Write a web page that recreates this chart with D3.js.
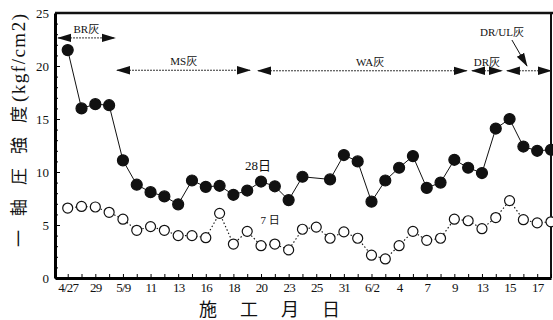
<!DOCTYPE html>
<html>
<head>
<meta charset="utf-8">
<script src="https://cdn.jsdelivr.net/npm/d3@7"></script>
<style>
    body { margin: 0; background: #fff; }
    svg { display: block; }
    text { font-family: "Liberation Serif", "Noto Sans CJK JP", serif; fill: #111; }
</style>
</head>
<body>
<svg width="553" height="320"></svg>
<script>
// sampling days, labels only under every second sample
const xLabels = ["4/27", "29", "5/9", "11", "13", "16", "18", "20", "23",
                 "25", "31", "6/2", "4", "7", "9", "13", "15", "17"];

// unconfined compressive strength (kgf/cm2), one value per sample
const strength28 = [21.5, 16.0, 16.4, 16.3, 11.1, 8.8, 8.1, 7.7, 6.95, 9.2,
                    8.6, 8.7, 7.85, 8.25, 9.1, 8.65, 7.35, 9.55, null, 9.3,
                    11.6, 11.0, 7.2, 9.2, 10.4, 11.5, 8.5, 9.0, 11.15, 10.4,
                    9.9, 14.1, 15.0, 12.4, 12.0, 12.1];
const strength7 = [6.6, 6.75, 6.7, 6.2, 5.55, 4.5, 4.85, 4.5, 4.0, 4.0,
                   3.8, 6.1, 3.2, 4.4, 3.05, 3.2, 2.65, 4.6, 4.8, 3.75,
                   4.35, 3.75, 2.15, 1.8, 3.05, 4.4, 3.55, 3.75, 5.55, 5.4,
                   4.65, 5.7, 7.3, 5.5, 5.2, 5.3];

const yTicks = [0, 5, 10, 15, 20, 25];

// lime type periods: start / end in sample index, level in kgf/cm2
const periods = [
    {name: "BR灰",    start: -0.7,  end: 3.42,  level: 22.65, labelAt: 1.35,  labelLevel: 23.1},
    {name: "MS灰",    start: 3.57,  end: 13.2,  level: 19.6,  labelAt: 8.4,   labelLevel: 20.1},
    {name: "WA灰",    start: 13.78, end: 28.9,  level: 19.55, labelAt: 21.9,  labelLevel: 20.0},
    {name: "DR灰",    start: 29.28, end: 31.45, level: 19.55, labelAt: 30.36, labelLevel: 20.0},
    {name: "DR/UL灰", start: 31.81, end: 35.0,  level: 19.55, labelAt: 31.45, labelLevel: 22.8}
];

const svg = d3.select("svg");

const x = d3.scaleLinear().domain([-0.92, 35]).range([55, 551]);
const y = d3.scaleLinear().domain([0, 25]).range([278, 13]);

/**
 * Draw the axes, frame and axis titles
 * @param {selection} g - group to draw in
 */
function drawAxes(g){
    // frame on top and right
    g.append("line").attr("x1", 55).attr("x2", 553).attr("y1", y(25)).attr("y2", y(25))
        .attr("stroke", "#111").attr("stroke-width", 2.5);
    g.append("line").attr("x1", x(35)).attr("x2", x(35)).attr("y1", y(25)).attr("y2", y(0))
        .attr("stroke", "#111").attr("stroke-width", 2);

    // minor ticks every unit
    g.append("g")
        .attr("transform", `translate(${x(-0.92)},0)`)
        .call(d3.axisLeft(y).tickValues(d3.range(0, 26)).tickSizeInner(-3).tickSizeOuter(0).tickFormat(""))
        .call(s => s.select(".domain").remove());

    let yAxis = g.append("g")
        .attr("transform", `translate(${x(-0.92)},0)`)
        .call(d3.axisLeft(y).tickValues(yTicks).tickSizeInner(-5).tickSizeOuter(0).tickPadding(6));
    yAxis.select(".domain").attr("stroke-width", 3);
    yAxis.selectAll("text").style("font-size", "13px").style("font-family", "Liberation Serif");

    let xAxis = g.append("g")
        .attr("transform", `translate(0,${y(0)})`)
        .call(d3.axisBottom(x)
            .tickValues(d3.range(0, 36))
            .tickSizeInner(-4).tickSizeOuter(0).tickPadding(5)
            .tickFormat(i => i % 2 === 0 ? xLabels[i / 2] : ""));
    xAxis.select(".domain").attr("stroke-width", 3);
    xAxis.selectAll("text").style("font-size", "13px").style("letter-spacing", "-0.8px")
        .style("font-family", "Liberation Serif");

    // y title, rotated
    let yTitle = g.append("text")
        .attr("transform", "translate(25,247) rotate(-90)")
        .attr("text-anchor", "start");
    yTitle.append("tspan").text("一軸圧強度")
        .style("font-size", "17px").style("letter-spacing", "14px");
    yTitle.append("tspan").text("(kgf/cm2)").attr("dx", -10)
        .style("font-size", "19px").style("letter-spacing", "1.5px");

    g.append("text")
        .attr("x", 199).attr("y", 316)
        .style("font-size", "18px").style("letter-spacing", "23px")
        .text("施工月日");
}

/**
 * Draw a series as line plus circles
 * @param {selection} g - group to draw in
 * @param {array} values - series values, null for missing samples
 * @param {boolean} filled - filled or open markers
 */
function drawSeries(g, values, filled){
    let points = values.map((v, i) => ({i: i, v: v})).filter(d => d.v !== null);
    let line = d3.line().x(d => x(d.i)).y(d => y(d.v));

    g.append("path")
        .datum(points)
        .attr("d", line)
        .attr("fill", "none")
        .attr("stroke", "#111")
        .attr("stroke-width", filled ? 1 : 1.1)
        .attr("stroke-dasharray", filled ? null : "1.5,2.2");

    g.selectAll(null)
        .data(points)
        .enter()
        .append("circle")
        .attr("cx", d => x(d.i))
        .attr("cy", d => y(d.v))
        .attr("r", filled ? 5.5 : 5)
        .attr("fill", filled ? "#111" : "#fff")
        .attr("stroke", "#111")
        .attr("stroke-width", 1.2);
}

/**
 * Draw double arrows for each lime period
 * @param {selection} g - group to draw in
 */
function drawPeriods(g){
    svg.append("defs").append("marker")
        .attr("id", "head")
        .attr("markerUnits", "userSpaceOnUse")
        .attr("viewBox", "0 -5 14 10")
        .attr("refX", 13).attr("refY", 0)
        .attr("markerWidth", 14).attr("markerHeight", 10)
        .attr("orient", "auto-start-reverse")
        .append("path").attr("d", "M0,-4.2L14,0L0,4.2Z").attr("fill", "#111");

    g.selectAll("line.period")
        .data(periods)
        .enter()
        .append("line")
        .attr("class", "period")
        .attr("x1", d => x(d.start)).attr("x2", d => x(d.end))
        .attr("y1", d => y(d.level)).attr("y2", d => y(d.level))
        .attr("stroke", "#333").attr("stroke-width", 1)
        .attr("stroke-dasharray", "2,1")
        .attr("marker-start", "url(#head)")
        .attr("marker-end", "url(#head)");

    g.selectAll("text.period")
        .data(periods)
        .enter()
        .append("text")
        .attr("class", "period")
        .attr("x", d => x(d.labelAt)).attr("y", d => y(d.labelLevel))
        .attr("text-anchor", "middle")
        .style("font-size", "11px")
        .text(d => d.name);

    // pointer from DR/UL label down to its arrow
    g.append("line")
        .attr("x1", x(32.17)).attr("y1", y(22.45))
        .attr("x2", x(33.26)).attr("y2", y(20.0))
        .attr("stroke", "#111").attr("stroke-width", 1)
        .attr("marker-end", "url(#head)");
}

const g = svg.append("g");
drawAxes(g);
drawPeriods(g);
drawSeries(g, strength7, false);
drawSeries(g, strength28, true);

g.append("text").attr("x", 258).attr("y", 170).attr("text-anchor", "middle")
    .style("font-size", "13px").text("28日");
g.append("text").attr("x", 270).attr("y", 224).attr("text-anchor", "middle")
    .style("font-size", "11px").text("7 日");
</script>
</body>
</html>
